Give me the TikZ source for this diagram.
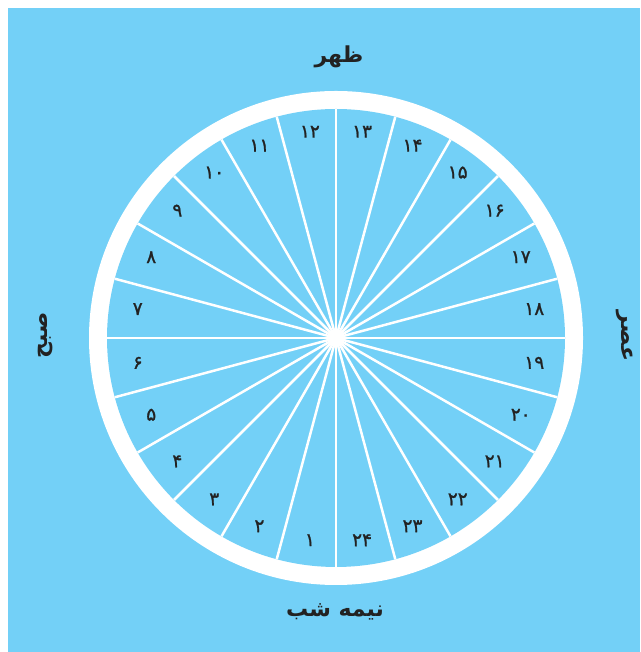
\documentclass[tikz,border=0pt]{standalone}
\usepackage{fontspec}
\usetikzlibrary{calc}
\TeXXeTstate=1
\newfontfamily\arabicfont[Script=Arabic]{DejaVu Sans}
\newfontfamily\digitfont[FakeBold=1.2]{DejaVu Sans}
\definecolor{bgblue}{RGB}{115,208,247}
\definecolor{ink}{RGB}{34,34,34}
\begin{document}
\begin{tikzpicture}[x=1pt,y=1pt,
  hour/.style={font=\digitfont\fontsize{18.5}{18.5}\selectfont, text=ink, inner sep=0pt},
  sidelabel/.style={font=\arabicfont\bfseries\fontsize{22}{22}\selectfont, text=ink, inner sep=0pt},
  spoke/.style={white, line width=2.5pt}]
\useasboundingbox (0,0) rectangle (640,652);
\fill[bgblue] (8,0) rectangle (640,644);
\coordinate (c) at (336,314);
\fill[white] (c) circle (247);
\fill[bgblue] (c) circle (229);
\foreach \a in {0,15,...,345} {
  \coordinate (s\a) at ($(c)+(\a:229)$);
  \draw[spoke] (c) -- (s\a);
}
\foreach \h/\t in {13/{۱۳},14/{۱۴},15/{۱۵},16/{۱۶},17/{۱۷},18/{۱۸},19/{۱۹},20/{۲۰},21/{۲۱},22/{۲۲},23/{۲۳},24/{۲۴},1/{۱},2/{۲},3/{۳},4/{۴},5/{۵},6/{۶},7/{۷},8/{۸},9/{۹},10/{۱۰},11/{۱۱},12/{۱۲}} {
  \pgfmathsetmacro\ang{82.5-15*(\h-13)}
  \node[hour] (h\h) at ($(c)+({200*cos(\ang)},{206*sin(\ang)+2})$) {\t};
}
\node[sidelabel] (noon) at (339,595) {\arabicfont\bfseries\beginR ظهر\endR};
\node[sidelabel] (midnight) at (335,40) {\arabicfont\bfseries\beginR نیمه شب\endR};
\node[sidelabel, rotate=90] (morning) at (46,317) {\arabicfont\bfseries\beginR صبح\endR};
\node[sidelabel, rotate=-90] (evening) at (625,316) {\arabicfont\bfseries\beginR عصر\endR};
\end{tikzpicture}
\end{document}
